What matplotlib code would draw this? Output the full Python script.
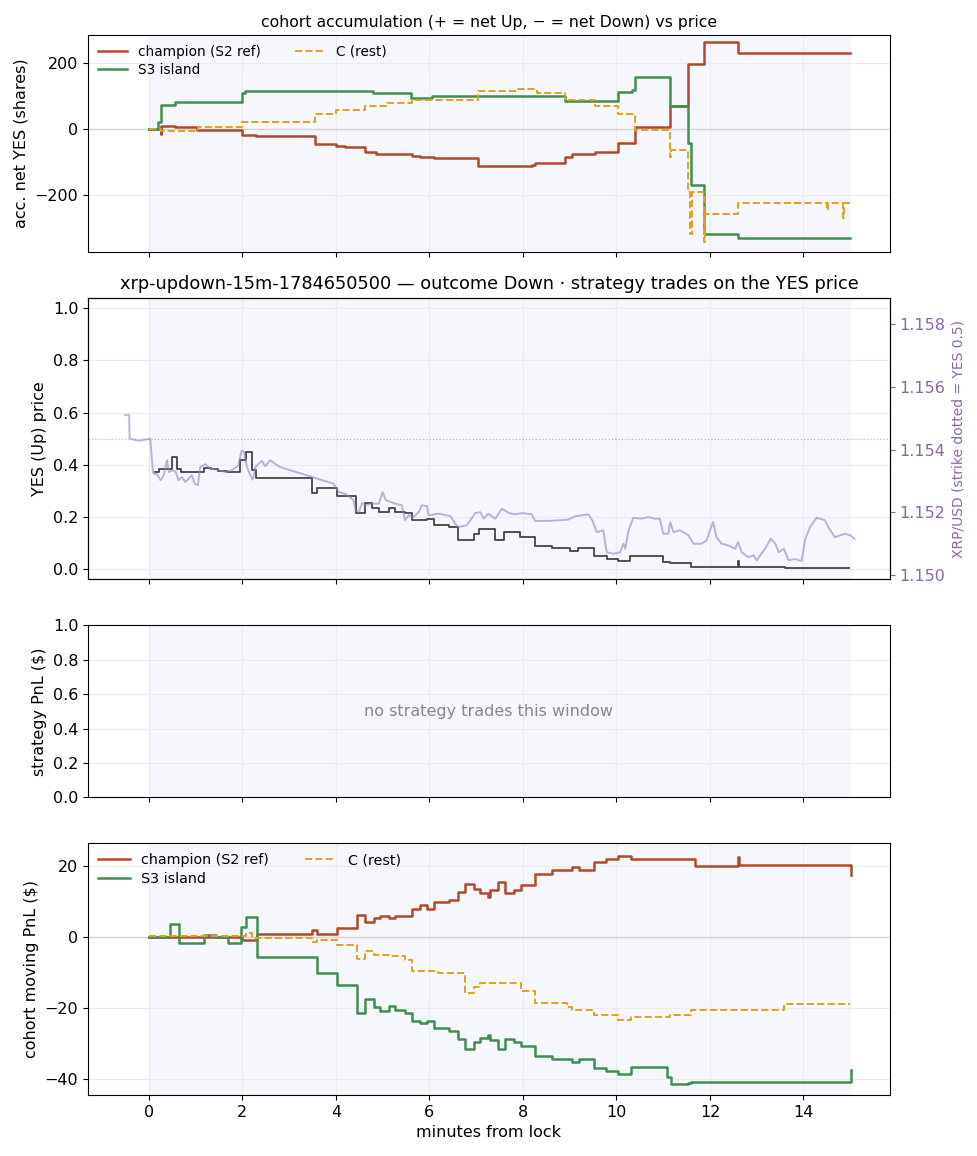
import numpy as np
import matplotlib
matplotlib.use("Agg")
import matplotlib.pyplot as plt
from matplotlib.ticker import MultipleLocator

# colours
C_CHAMP = "#b5482b"
C_S3 = "#3f8f50"
C_REST = "#e0a21c"
C_PX = "#9b7fc0"
C_YES = "#444444"
C_SPAN = "#f5f7fc"

STRIKE = 1.15435

# --- cohort accumulation (shares) ---
acc_champ_t = [0, 0.25, 0.26, 0.28, 0.57, 1.03, 2.0, 2.3, 3.56, 4.0, 4.2, 4.63, 4.85, 5.62, 5.8,
               6.09, 7.05, 8.19, 8.26, 8.9, 9.04, 9.54, 10.04, 10.4, 11.15, 11.52, 11.88, 12.6, 15.0]
acc_champ_v = [0, -15, 10, 10, 5, -3, -18, -23, -45, -53, -56, -70, -76, -82, -86,
               -89, -112, -109, -103, -84, -76, -69, -43, 5, 68, 197, 263, 229, 229]
acc_s3_t = [0, 0.2, 0.25, 0.55, 2.0, 2.05, 4.8, 5.6, 6.05, 8.9, 10.04, 10.33, 10.4, 11.15,
            11.52, 11.6, 11.88, 12.6, 15.0]
acc_s3_v = [0, 20, 73, 83, 110, 116, 108, 93, 101, 86, 112, 118, 157, 68,
            -43, -170, -318, -331, -331]
acc_rest_t = [0, 0.25, 1.06, 2.0, 3.56, 4.0, 4.63, 5.1, 5.62, 7.05, 7.9, 8.3, 8.9, 9.54, 10.04,
              10.4, 11.15, 11.17, 11.52, 11.58, 11.62, 11.88, 11.9, 12.6, 14.5, 14.52, 14.85, 14.87, 15.0]
acc_rest_v = [0, -5, 7, 22, 45, 57, 68, 80, 88, 116, 120, 108, 88, 68, 45,
              -3, -84, -64, -193, -320, -193, -345, -258, -225, -245, -225, -270, -225, -225]

# --- YES price and XRP/USD ---
yes_t = [0.13, 0.21, 0.49, 0.6, 0.68, 1.17, 1.34, 1.48, 1.68, 1.96, 2.08, 2.21, 2.29, 3.49, 3.6,
         4.02, 4.44, 4.62, 4.77, 4.92, 5.13, 5.26, 5.47, 5.63, 5.95, 6.09, 6.41, 6.61, 6.95, 7.07,
         7.41, 7.6, 7.94, 8.26, 8.62, 9.0, 9.17, 9.51, 9.79, 10.03, 10.29, 11.0, 11.15, 11.59,
         12.6, 12.62, 13.6, 14.98]
yes_v = [0.373, 0.384, 0.43, 0.384, 0.37, 0.386, 0.384, 0.375, 0.37, 0.418, 0.447, 0.38, 0.35, 0.29, 0.309,
         0.281, 0.213, 0.252, 0.233, 0.22, 0.233, 0.22, 0.213, 0.188, 0.19, 0.169, 0.16, 0.111, 0.134, 0.152,
         0.111, 0.14, 0.122, 0.088, 0.081, 0.069, 0.081, 0.05, 0.037, 0.032, 0.051, 0.028, 0.022, 0.009,
         0.03, 0.009, 0.002, 0.002]

px_t = [-0.51, -0.42, -0.41, -0.21, 0.03, 0.09, 0.18, 0.25, 0.32, 0.39, 0.43, 0.5, 0.58, 0.63, 0.71,
        0.78, 0.85, 0.92, 0.98, 1.05, 1.1, 1.21, 1.31, 1.5, 1.64, 1.78, 1.92, 1.98, 2.03, 2.1,
        2.17, 2.22, 2.28, 2.35, 2.42, 2.49, 2.6, 2.71, 2.81, 3.95, 4.06, 4.2, 4.38, 4.42, 4.49,
        4.56, 4.63, 4.77, 4.92, 5.0, 5.07, 5.27, 5.41, 5.48, 5.56, 5.66, 5.77, 5.84, 5.95, 5.98,
        6.2, 6.45, 6.55, 6.62, 6.8, 6.98, 7.09, 7.16, 7.26, 7.41, 7.55, 7.7, 7.84, 7.98, 8.19,
        8.26, 8.55, 8.97, 9.12, 9.4, 9.49, 9.58, 9.72, 9.79, 9.94, 10.08, 10.15, 10.19, 10.26, 10.36,
        10.54, 10.68, 10.82, 10.93, 11.0, 11.11, 11.15, 11.22, 11.36, 11.54, 11.65, 11.82, 11.93, 12.0, 12.07,
        12.14, 12.25, 12.39, 12.54, 12.6, 12.68, 12.82, 12.93, 13.0, 13.2, 13.3, 13.4, 13.47, 13.58, 13.68,
        13.82, 13.96, 14.04, 14.14, 14.28, 14.46, 14.53, 14.67, 14.89, 15.0, 15.09]
px_v = [1.15510, 1.15510, 1.15435, 1.15428, 1.15435, 1.15325, 1.15320, 1.15302, 1.15318, 1.15366, 1.15328, 1.15334, 1.15328, 1.15302, 1.15312,
        1.15296, 1.15307, 1.15318, 1.15291, 1.15286, 1.15344, 1.15353, 1.15339, 1.15334, 1.15328, 1.15334, 1.15350, 1.15395, 1.15395, 1.15344,
        1.15318, 1.15304, 1.15344, 1.15355, 1.15364, 1.15347, 1.15366, 1.15353, 1.15344, 1.15291, 1.15264, 1.15259, 1.15238, 1.15206, 1.15200,
        1.15229, 1.15222, 1.15227, 1.15227, 1.15264, 1.15238, 1.15227, 1.15222, 1.15174, 1.15190, 1.15184, 1.15200, 1.15222, 1.15219, 1.15190,
        1.15195, 1.15187, 1.15163, 1.15152, 1.15158, 1.15197, 1.15200, 1.15179, 1.15195, 1.15179, 1.15211, 1.15197, 1.15193, 1.15197, 1.15193,
        1.15172, 1.15172, 1.15176, 1.15187, 1.15193, 1.15172, 1.15136, 1.15142, 1.15072, 1.15067, 1.15072, 1.15099, 1.15083, 1.15142, 1.15182,
        1.15179, 1.15184, 1.15179, 1.15179, 1.15131, 1.15131, 1.15168, 1.15136, 1.15142, 1.15126, 1.15099, 1.15099, 1.15110, 1.15142, 1.15168,
        1.15120, 1.15099, 1.15094, 1.15083, 1.15104, 1.15072, 1.15056, 1.15062, 1.15046, 1.15088, 1.15115, 1.15099, 1.15072, 1.15083, 1.15046,
        1.15050, 1.15044, 1.15115, 1.15152, 1.15182, 1.15174, 1.15152, 1.15120, 1.15131, 1.15126, 1.15115]

# --- cohort moving PnL ($) ---
pnl_champ_t = [0, 2.0, 2.32, 3.5, 3.6, 4.03, 4.45, 4.62, 4.81, 4.95, 5.13, 5.27, 5.63, 5.8, 5.95,
               6.09, 6.41, 6.62, 6.77, 6.96, 7.09, 7.26, 7.3, 7.46, 7.62, 7.8, 7.96, 8.26, 8.62, 9.05,
               9.19, 9.53, 9.77, 10.04, 10.31, 11.68, 12.6, 12.62, 15.0, 15.01]
pnl_champ_v = [0, -0.8, 1.0, 2.1, 0.9, 2.6, 6.2, 4.3, 5.5, 5.9, 5.3, 5.9, 8.1, 9.0, 8.1,
               10.0, 10.4, 12.8, 15.1, 13.7, 12.5, 11.4, 13.4, 15.6, 12.5, 13.4, 14.7, 17.9, 19.1, 19.8,
               19.1, 21.2, 22.2, 22.8, 22.0, 20.0, 22.5, 20.3, 20.3, 17.6]
pnl_s3_t = [0, 0.45, 0.64, 1.18, 1.43, 1.7, 1.98, 2.07, 2.32, 3.6, 4.03, 4.45, 4.62, 4.81, 4.95,
            5.13, 5.27, 5.47, 5.63, 5.8, 5.95, 6.09, 6.41, 6.62, 6.77, 6.96, 7.09, 7.26, 7.3, 7.46,
            7.62, 7.8, 7.96, 8.26, 8.62, 9.05, 9.19, 9.53, 9.77, 10.04, 10.31, 11.08, 11.17, 11.52, 11.6,
            15.0, 15.01]
pnl_s3_v = [0, 3.6, -1.5, 0.5, 0, -1.5, 3.0, 5.7, -5.7, -10.2, -13.5, -21.5, -17.3, -19.6, -20.8,
            -19.3, -20.6, -21.3, -23.6, -24.1, -23.6, -25.7, -26.4, -28.8, -31.6, -29.5, -28.5, -27.6, -29.0, -31.6,
            -28.8, -29.5, -30.7, -33.5, -34.4, -35.1, -34.4, -37.0, -37.7, -38.6, -36.5, -39.5, -41.4, -41.2, -40.8,
            -40.8, -37.5]
pnl_rest_t = [0, 2.07, 2.21, 3.5, 3.6, 4.03, 4.45, 4.62, 4.81, 5.13, 5.47, 5.63, 6.18, 6.77, 6.96,
              7.09, 7.96, 8.26, 8.94, 9.05, 9.53, 10.04, 10.31, 11.15, 11.59, 12.6, 13.58, 15.0]
pnl_rest_v = [0.3, 1.3, -0.3, -1.4, -0.8, -2.2, -6.0, -4.0, -5.0, -5.3, -6.5, -9.5, -10.2, -15.7, -14.0,
              -12.9, -15.2, -18.5, -19.6, -20.6, -21.8, -23.4, -22.5, -22.0, -20.4, -20.6, -18.9, -18.9]

X_SPAN = (0, 15)

plt.rcParams["font.size"] = 11.5

fig, axes = plt.subplots(4, 1, figsize=(9.78, 11.56), dpi=100, sharex=True,
                         gridspec_kw=dict(height_ratios=[217, 282, 172, 252], hspace=0.2))
fig.subplots_adjust(left=0.09, right=0.91, top=0.9697, bottom=0.0528)
ax1, ax2, ax3, ax4 = axes

for ax in axes:
    ax.axvspan(*X_SPAN, color=C_SPAN, zorder=0)
    ax.grid(True, color="#ebebeb", lw=0.8, zorder=0)
    ax.set_axisbelow(True)

# panel 1
ax1.axhline(0, color="#d4d4d4", lw=1, zorder=1)
ax1.plot(acc_champ_t, acc_champ_v, drawstyle="steps-post", color=C_CHAMP, lw=1.8, label="champion (S2 ref)")
ax1.plot(acc_s3_t, acc_s3_v, drawstyle="steps-post", color=C_S3, lw=1.8, label="S3 island")
ax1.plot(acc_rest_t, acc_rest_v, drawstyle="steps-post", color=C_REST, lw=1.4, ls="--", label="C (rest)")
ax1.set_ylim(-373, 285)
ax1.yaxis.set_major_locator(MultipleLocator(200))
ax1.set_ylabel("acc. net YES (shares)")
ax1.set_title("cohort accumulation (+ = net Up, \u2212 = net Down) vs price", fontsize=11.3)
ax1.legend(loc="upper left", ncol=2, frameon=False, fontsize=9.8, handlelength=2.2, columnspacing=2.5,
           borderaxespad=0.3, labelspacing=0.3)

# panel 2
ax2.plot(yes_t, yes_v, drawstyle="steps-post", color=C_YES, lw=1.3, zorder=3)
ax2.set_ylim(-0.04, 1.04)
ax2.set_ylabel("YES (Up) price")
ax2.set_title("xrp-updown-15m-1784650500 \u2014 outcome Down \u00b7 strategy trades on the YES price",
              fontsize=12.8)
ax2r = ax2.twinx()
ax2r.plot(px_t, px_v, color=C_PX, lw=1.4, alpha=0.6)
ax2r.axhline(STRIKE, color=C_PX, lw=0.9, ls=":", alpha=0.6)
ax2r.set_ylim(STRIKE - 0.0045, STRIKE + 0.0045)
ax2r.yaxis.set_major_locator(MultipleLocator(0.002))
ax2r.yaxis.get_major_formatter().set_useOffset(False)
ax2r.tick_params(axis="y", colors="#8a68a8", labelsize=11.5)
ax2r.set_ylabel("XRP/USD (strike dotted = YES 0.5)", color="#8a68a8", fontsize=10)

# panel 3
ax3.set_ylim(0, 1)
ax3.set_ylabel("strategy PnL ($)")
ax3.text(0.5, 0.5, "no strategy trades this window", transform=ax3.transAxes,
         ha="center", va="center", color="#888888", fontsize=11.5)

# panel 4
ax4.axhline(0, color="#d4d4d4", lw=1, zorder=1)
ax4.plot(pnl_champ_t, pnl_champ_v, drawstyle="steps-post", color=C_CHAMP, lw=1.8, label="champion (S2 ref)")
ax4.plot(pnl_s3_t, pnl_s3_v, drawstyle="steps-post", color=C_S3, lw=1.8, label="S3 island")
ax4.plot(pnl_rest_t, pnl_rest_v, drawstyle="steps-post", color=C_REST, lw=1.4, ls="--", label="C (rest)")
ax4.set_ylim(-44.5, 26.5)
ax4.yaxis.set_major_locator(MultipleLocator(20))
ax4.set_ylabel("cohort moving PnL ($)")
ax4.set_xlabel("minutes from lock")
ax4.legend(loc="upper left", ncol=2, frameon=False, fontsize=10.3, handlelength=2.2, columnspacing=2.5,
           borderaxespad=0.3, labelspacing=0.3)

ax4.set_xlim(-1.3, 15.85)
ax4.set_xticks([0, 2, 4, 6, 8, 10, 12, 14])
for ax in axes:
    ax.tick_params(labelsize=11.5)

fig.savefig("out.png", dpi=100)
